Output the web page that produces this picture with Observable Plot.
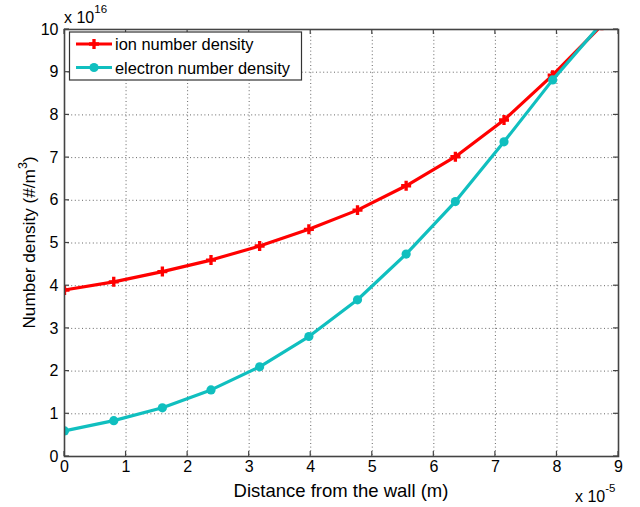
<!DOCTYPE html>
<html>
<head>
<meta charset="utf-8">
<script src="https://cdn.jsdelivr.net/npm/d3@7"></script>
<script src="https://cdn.jsdelivr.net/npm/@observablehq/plot@0.6"></script>
<style>
  html, body { margin: 0; padding: 0; background: white; }
  svg text { font-family: "Liberation Sans", Arial, Helvetica, sans-serif; }
</style>
</head>
<body>
<div id="chart"></div>
<script>
// ---- data (x in units of 1e-5 m, y in units of 1e16 #/m^3) ----
const xTicks = [0, 1, 2, 3, 4, 5, 6, 7, 8, 9];
const yTicks = [0, 1, 2, 3, 4, 5, 6, 7, 8, 9, 10];
const distance = [0, 0.80, 1.59, 2.38, 3.17, 3.97, 4.76, 5.55, 6.35, 7.14, 7.93, 8.73];
const ionDensity = [3.90, 4.09, 4.33, 4.60, 4.93, 5.32, 5.77, 6.34, 7.02, 7.88, 8.93, 10.1];
const electronDensity = [0.60, 0.84, 1.14, 1.56, 2.10, 2.81, 3.67, 4.74, 5.97, 7.37, 8.82, 10.15];
const seriesNames = ["ion number density", "electron number density"];
const seriesColors = ["#ff0000", "#10bfbf"];
const xLabel = "Distance from the wall (m)";
const yLabel = "Number density (#/m";

const ions = distance.map((d, i) => ({x: d, y: ionDensity[i]}));
const electrons = distance.map((d, i) => ({x: d, y: electronDensity[i]}));

const plot = Plot.plot({
  width: 640,
  height: 507,
  marginLeft: 64,
  marginRight: 22,
  marginTop: 29,
  marginBottom: 51,
  style: {fontFamily: "Liberation Sans, Arial, sans-serif", fontSize: "16px", background: "white", color: "black", overflow: "visible"},
  x: {domain: [0, 9], label: null},
  y: {domain: [0, 10], label: null},
  marks: [
    Plot.gridX(xTicks, {stroke: "#666", strokeOpacity: 1, strokeDasharray: "1,2.6"}),
    Plot.gridY(yTicks, {stroke: "#666", strokeOpacity: 1, strokeDasharray: "1,2.6"}),
    Plot.axisX(xTicks, {tickSize: 0, tickPadding: 4, fontSize: 16, fill: "black"}),
    Plot.axisY(yTicks, {tickSize: 0, tickPadding: 6, fontSize: 16, fill: "black"}),
    Plot.line(ions, {x: "x", y: "y", stroke: seriesColors[0], strokeWidth: 3.2, clip: true}),
    Plot.dot(ions, {x: "x", y: "y", symbol: "cross", fill: seriesColors[0], r: 4.2, clip: true}),
    Plot.line(electrons, {x: "x", y: "y", stroke: seriesColors[1], strokeWidth: 3.2, clip: true}),
    Plot.dot(electrons, {x: "x", y: "y", symbol: "circle", fill: seriesColors[1], r: 4.6, clip: true}),
    Plot.frame({stroke: "#444", strokeWidth: 1.6})
  ]
});

document.getElementById("chart").appendChild(plot);

const svg = d3.select(plot);
const xs = plot.scale("x"), ys = plot.scale("y");
const x0 = xs.apply(0), x1 = xs.apply(9), y0 = ys.apply(0), y1 = ys.apply(10);
const tk = 5;
const tg = svg.append("g").attr("stroke", "#444").attr("stroke-width", 1.2);
xTicks.forEach(t => {
  const px = xs.apply(t);
  tg.append("line").attr("x1", px).attr("x2", px).attr("y1", y0).attr("y2", y0 - tk);
  tg.append("line").attr("x1", px).attr("x2", px).attr("y1", y1).attr("y2", y1 + tk);
});
yTicks.forEach(t => {
  const py = ys.apply(t);
  tg.append("line").attr("y1", py).attr("y2", py).attr("x1", x0).attr("x2", x0 + tk);
  tg.append("line").attr("y1", py).attr("y2", py).attr("x1", x1).attr("x2", x1 - tk);
});

// axis labels
svg.append("text").attr("x", (x0 + x1) / 2).attr("y", 497).attr("text-anchor", "middle")
  .attr("font-size", 18.5).attr("fill", "black").text(xLabel);
const yl = svg.append("text").attr("transform", `translate(35,${(y0 + y1) / 2}) rotate(-90)`)
  .attr("text-anchor", "middle").attr("font-size", 17.2).attr("fill", "black");
yl.append("tspan").text(yLabel);
yl.append("tspan").attr("dy", -8).attr("font-size", 12.5).text("3");
yl.append("tspan").attr("dy", 8).text(")");

// exponent labels
const ex1 = svg.append("text").attr("x", x0).attr("y", 23).attr("text-anchor", "start").attr("font-size", 16).attr("fill", "black");
ex1.append("tspan").text("x 10");
ex1.append("tspan").attr("dy", -10).attr("font-size", 11.5).text("16");
const ex2 = svg.append("text").attr("x", 575).attr("y", 502).attr("text-anchor", "start").attr("font-size", 16).attr("fill", "black");
ex2.append("tspan").text("x 10");
ex2.append("tspan").attr("dy", -10).attr("font-size", 11.5).text("-5");

// legend
const lg = svg.append("g");
lg.append("rect").attr("x", x0 + 5.5).attr("y", y1 + 3).attr("width", 232).attr("height", 48)
  .attr("fill", "white").attr("stroke", "#333").attr("stroke-width", 1.2);
const sym = [d3.symbolCross, d3.symbolCircle];
seriesNames.forEach((name, i) => {
  const cy = y1 + 15 + i * 23.5;
  lg.append("line").attr("x1", x0 + 12).attr("x2", x0 + 48).attr("y1", cy).attr("y2", cy)
    .attr("stroke", seriesColors[i]).attr("stroke-width", 3.2);
  lg.append("path").attr("d", d3.symbol(sym[i], i === 0 ? 55 : 66)()).attr("transform", `translate(${x0 + 30},${cy})`)
    .attr("fill", seriesColors[i]);
  lg.append("text").attr("x", x0 + 51).attr("y", cy + 6).attr("text-anchor", "start")
    .attr("font-size", 16.4).attr("fill", "black").text(name);
});
</script>
</body>
</html>
